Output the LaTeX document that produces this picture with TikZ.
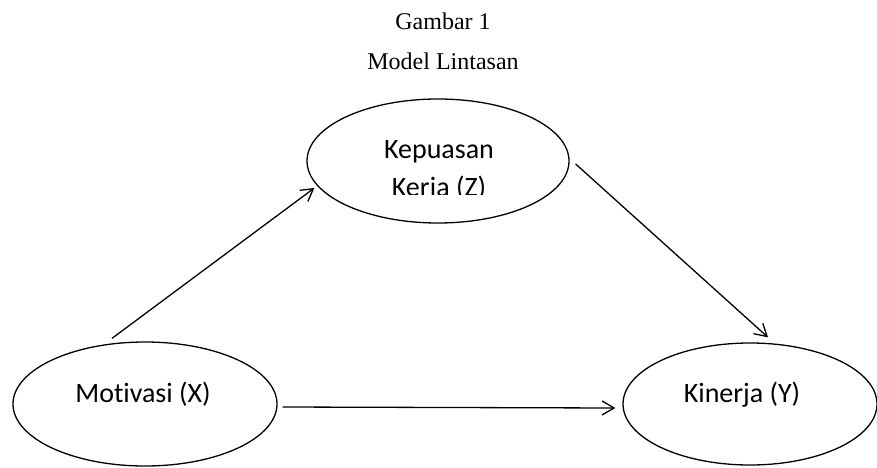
\documentclass[tikz,border=0pt]{standalone}
\usepackage{fontspec}
\setmainfont{Liberation Serif}
\newfontfamily\calib[Ligatures=NoCommon]{Carlito}
\usetikzlibrary{shapes.geometric,arrows.meta}
\begin{document}
\begin{tikzpicture}[x=1pt,y=1pt,
  oval/.style={draw,ellipse,line width=1.3pt,inner sep=0pt},
  lbl/.style={anchor=base,inner sep=0pt,font=\calib\fontsize{28}{34}\selectfont},
  ttl/.style={anchor=base,inner sep=0pt,font=\fontsize{24}{29}\selectfont},
  arr/.style={line width=1.3pt,-{Straight Barb[length=12pt,width=14pt,line width=1.3pt]}}]
\useasboundingbox (0,0) rectangle (877,467);
\node[ttl] (t1) at (443,437) {Gambar 1};
\node[ttl] (t2) at (443,398) {Model Lintasan};
\node[oval,minimum width=262pt,minimum height=124pt] (kep) at (438,306) {};
\node[oval,minimum width=264pt,minimum height=124pt] (mot) at (145,63) {};
\node[oval,minimum width=254pt,minimum height=122pt] (kin) at (750,63) {};
\node[lbl] (kept) at (439,309) {Kepuasan};
\begin{scope}
  \clip (370,273) rectangle (510,300);
  \node[lbl] (kepz) at (439,271) {Kerja (Z)};
\end{scope}
\node[lbl] (mott) at (143,65) {Motivasi (X)};
\node[lbl] (kint) at (742,65) {Kinerja (Y)};
\draw[arr] ([shift={(-33,3)}]mot.north) -- ([shift={(8,-27)}]kep.west);
\draw[arr] ([shift={(6,-3)}]kep.east) -- ([shift={(18,5)}]kin.north);
\draw[arr] ([shift={(5,-3)}]mot.east) -- ([shift={(-7,-4)}]kin.west);
\end{tikzpicture}
\end{document}
